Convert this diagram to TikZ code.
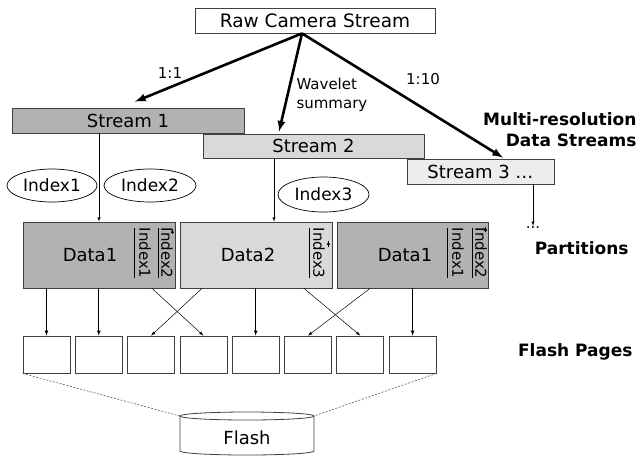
\documentclass[tikz,border=0pt]{standalone}
\usepackage{fontspec}
\setmainfont{DejaVu Sans}
\usetikzlibrary{shapes.geometric}
\definecolor{darkfill}{gray}{0.7}
\definecolor{midfill}{gray}{0.85}
\definecolor{lightfill}{gray}{0.93}
\definecolor{edge}{gray}{0.25}

\begin{document}
\begin{tikzpicture}[x=1pt,y=-1pt,
  box/.style={draw=edge,line width=0.8pt,inner sep=0pt},
  stream/.style={box,minimum height=25pt,font=\fontsize{18}{21}\selectfont},
  part/.style={box,minimum width=152pt,minimum height=66pt},
  idx/.style={draw,ellipse,line width=0.7pt,inner sep=0pt,minimum width=91pt,minimum height=34pt,font=\fontsize{17}{20}\selectfont},
  vidx/.style={rotate=-90,inner sep=0pt,font=\fontsize{15}{18}\selectfont},
  dtxt/.style={font=\fontsize{18}{21}\selectfont},
  page/.style={box,minimum width=47pt,minimum height=37pt},
  big/.style={line width=2.6pt,-latex},
  arr/.style={line width=0.75pt,-latex},
  thinarr/.style={line width=0.5pt,-latex},
  tag/.style={font=\fontsize{17}{21}\selectfont\bfseries,align=right,anchor=east},
  lbl/.style={font=\fontsize{15}{19}\selectfont}]

\useasboundingbox (0,0) rectangle (644,456);

% the streams
\node[stream,minimum width=240pt,font=\fontsize{18.5}{21}\selectfont] (raw) at (315,20.5) {Raw Camera Stream};
\node[stream,fill=darkfill,minimum width=232pt] (s1) at (128,120.5) {Stream 1};
\node[stream,fill=midfill,minimum width=221pt,minimum height=24pt] (s2) at (313.5,146) {Stream 2};
\node[stream,fill=lightfill,minimum width=147pt] (s3) at (480.5,171.5) {Stream 3 …};

\coordinate (apex) at ([xshift=-13pt]raw.south);
\draw[big] (apex) -- ([xshift=7pt,yshift=6pt]s1.north);
\draw[big] (apex) -- ([xshift=-34.5pt,yshift=2pt]s2.north);
\draw[big] (apex) -- ([xshift=22.5pt,yshift=1pt]s3.north);

\node[lbl] (r1) at (170,73) {1:1};
\node[lbl,align=left,anchor=west] (wav) at (293,95) {Wavelet\\summary};
\node[lbl] (r10) at (423,79) {1:10};

\node[idx,minimum width=90pt,minimum height=33pt] (ix1) at (52,185.5) {Index1};
\node[idx,minimum width=92pt,minimum height=33pt] (ix2) at (150,185.5) {Index2};
\node[idx,minimum height=35pt] (ix3) at (323.5,194.5) {Index3};

% partitions
\node[part,fill=darkfill] (d1) at (99,255) {};
\node[part,fill=midfill] (d2) at (256,255) {};
\node[part,fill=darkfill,minimum width=151pt] (d3) at (412.5,255) {};
\node[dtxt] (d1t) at (90,255) {Data1};
\node[dtxt] (d2t) at (248,255) {Data2};
\node[dtxt] (d3t) at (405,255) {Data1};
\node[vidx] (d1a) at (145,253) {Index1};
\node[vidx] (d1b) at (167,253) {Index2};
\node[vidx] (d2a) at (319,253) {Index3};
\node[vidx] (d3a) at (458,253) {Index1};
\node[vidx] (d3b) at (481,253) {Index2};
\foreach \s in {35,59}
  \draw[line width=0.7pt] ([xshift=\s pt,yshift=-6pt]d1.north) -- ([xshift=\s pt,yshift=10pt]d1.south);
\draw[line width=0.7pt] ([xshift=53pt,yshift=-6pt]d2.north) -- ([xshift=53pt,yshift=10pt]d2.south);
\foreach \s in {34.5,59.5}
  \draw[line width=0.7pt] ([xshift=\s pt,yshift=-6pt]d3.north) -- ([xshift=\s pt,yshift=10pt]d3.south);
\draw[thinarr] ([xshift=-3pt,yshift=-12pt]d1.north east) -- ([xshift=-3pt,yshift=-7pt]d1.north east);
\draw[thinarr] ([xshift=-4pt,yshift=-25pt]d2.north east) -- ([xshift=-4pt,yshift=-19pt]d2.north east);
\draw[thinarr] ([xshift=-3pt,yshift=-10pt]d3.north east) -- ([xshift=-3pt,yshift=-5pt]d3.north east);

\coordinate (s2in) at ([xshift=18pt]d2.north);
\node[lbl,inner sep=1pt] (dots) at (533,228) {...};
\draw[thinarr] (d1.north |- s1.south) -- (d1.north);
\draw[thinarr] (s2in |- s2.south) -- (s2in);
\draw[thinarr] (dots |- s3.south) -- (dots.north);

% flash pages
\foreach \i in {1,...,8}
  \node[page] (p\i) at ({46.5+52.3*(\i-1)},354.5) {};

\draw[arr] (p1.north |- d1.south) -- (p1.north);
\draw[arr] (p2.north |- d1.south) -- (p2.north);
\draw[thinarr] ([xshift=53pt]d1.south) -- (p4.north);
\draw[thinarr] ([xshift=-54pt]d2.south) -- (p3.north);
\draw[arr] (p5.north |- d2.south) -- (p5.north);
\draw[thinarr] ([xshift=48pt]d2.south) -- (p7.north);
\draw[thinarr] ([xshift=-42.5pt]d3.south) -- (p6.north);
\draw[arr] (p8.north |- d3.south) -- (p8.north);

% flash
\coordinate (ctop) at (247,416);
\draw[edge,line width=0.8pt] ([xshift=-67pt]ctop) -- ++(0,35)
  arc[start angle=180,end angle=360,x radius=67pt,y radius=4pt] -- ([xshift=67pt]ctop);
\draw[edge,line width=0.8pt] (ctop) ellipse [x radius=67pt,y radius=4pt];
\node[dtxt] (flash) at (247,438) {Flash};
\draw[black!65,line width=0.6pt,dash pattern=on 2pt off 1.5pt] (p1.south west) -- ([xshift=-67pt]ctop);
\draw[black!65,line width=0.6pt,dash pattern=on 2pt off 1.5pt] (p8.south east) -- ([xshift=67pt]ctop);

\node[tag] (mr) at (640,130) {Multi-resolution\\Data Streams};
\node[tag] (pt) at (632,248) {Partitions};
\node[tag] (fp) at (636,352) {Flash Pages};

\end{tikzpicture}
\end{document}
